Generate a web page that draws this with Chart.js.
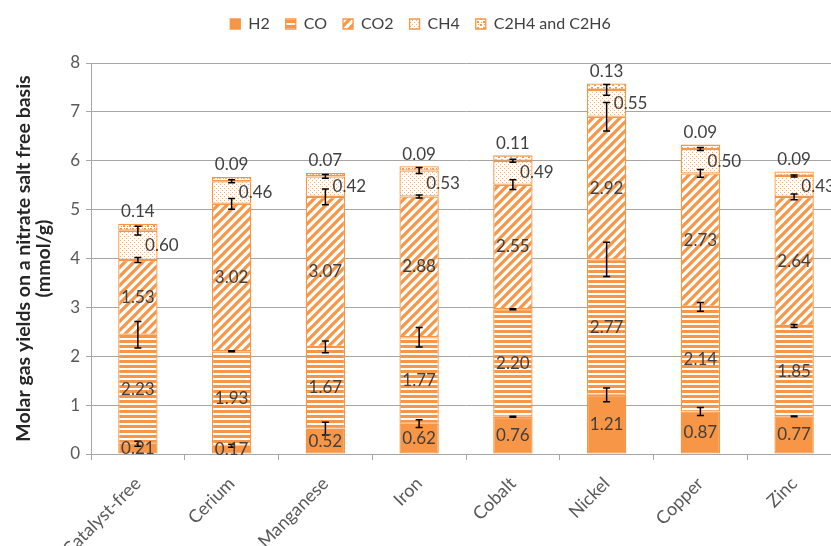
<!DOCTYPE html>
<html>
<head>
<meta charset="utf-8">
<script src="https://cdn.jsdelivr.net/npm/chart.js@4.4.0/dist/chart.umd.min.js"></script>
<style>
  html, body { margin: 0; padding: 0; background: #fff; overflow: hidden; }
  #wrap { width: 831px; height: 546px; overflow: hidden; }
</style>
</head>
<body>
<div id="wrap"><canvas id="grafico" width="841" height="546"></canvas></div>
<script>
const categorias = ["Catalyst-free", "Cerium", "Manganese", "Iron", "Cobalt", "Nickel", "Copper", "Zinc"];
const nomesSeries = ["H2", "CO", "CO2", "CH4", "C2H4 and C2H6"];

const h2  = [0.21, 0.17, 0.52, 0.62, 0.76, 1.21, 0.87, 0.77];
const co  = [2.23, 1.93, 1.67, 1.77, 2.20, 2.77, 2.14, 1.85];
const co2 = [1.53, 3.02, 3.07, 2.88, 2.55, 2.92, 2.73, 2.64];
const ch4 = [0.60, 0.46, 0.42, 0.53, 0.49, 0.55, 0.50, 0.43];
const c2  = [0.14, 0.09, 0.07, 0.09, 0.11, 0.13, 0.09, 0.09];

// error bars (+/-), drawn at the top of each segment
const erroH2  = [0.05, 0.03, 0.13, 0.08, 0.01, 0.14, 0.08, 0.01];
const erroCO  = [0.27, 0.01, 0.12, 0.20, 0.01, 0.35, 0.09, 0.03];
const erroCO2 = [0.05, 0.11, 0.16, 0.03, 0.10, 0.29, 0.08, 0.06];
const erroCH4 = [0.09, 0.03, 0.04, 0.06, 0.03, 0.11, 0.03, 0.02];

const eixoY = { min: 0, max: 8, passo: 1 };

const laranja = "#F79646";
const canvas = document.getElementById("grafico");
const ctx = canvas.getContext("2d");

function padrao(w, h, desenhar) {
  const c = document.createElement("canvas");
  c.width = w; c.height = h;
  const g = c.getContext("2d");
  desenhar(g, w, h);
  return ctx.createPattern(c, "repeat");
}

const listrasHoriz = padrao(8, 5, (g, w, h) => {
  g.fillStyle = laranja; g.fillRect(0, 0, w, h);
  g.fillStyle = "#fff"; g.fillRect(0, 3, w, 2);
});

const listrasDiag = padrao(9, 9, (g, w, h) => {
  g.fillStyle = "#fff"; g.fillRect(0, 0, w, h);
  g.strokeStyle = laranja; g.lineWidth = 3.2;
  g.beginPath();
  g.moveTo(-1, h + 1); g.lineTo(w + 1, -1);
  g.moveTo(-w / 2 - 1, h / 2 + 1); g.lineTo(w / 2 + 1, -h / 2 - 1);
  g.moveTo(w / 2 - 1, h * 1.5 + 1); g.lineTo(w * 1.5 + 1, h / 2 - 1);
  g.stroke();
});

const pontos = padrao(4, 4, (g, w, h) => {
  g.fillStyle = "#fff"; g.fillRect(0, 0, w, h);
  g.fillStyle = "rgba(247,150,70,0.75)";
  g.fillRect(0, 0, 1, 1);
  g.fillRect(2, 2, 1, 1);
});

const confete = padrao(6, 6, (g, w, h) => {
  g.fillStyle = "#fff"; g.fillRect(0, 0, w, h);
  g.fillStyle = laranja;
  g.fillRect(0, 0, 2, 2);
  g.fillRect(3, 3, 2, 2);
  g.fillRect(4, 0, 1, 1);
  g.fillRect(1, 4, 1, 1);
});

const valores = [h2, co, co2, ch4, c2];
const erros = [erroH2, erroCO, erroCO2, erroCH4];
const fundos = [laranja, listrasHoriz, listrasDiag, pontos, confete];

const datasets = valores.map((v, i) => ({
  label: nomesSeries[i],
  data: v,
  backgroundColor: fundos[i],
  borderColor: laranja,
  borderWidth: 1.3,
  borderSkipped: false,
  barPercentage: 0.42,
  categoryPercentage: 1
}));

// fixed legend height so the plot starts where the reference does
const alturaLegenda = {
  id: "alturaLegenda",
  beforeInit(chart) {
    const fit = chart.legend.fit;
    chart.legend.fit = function () {
      fit.call(this);
      this.height = 63;
    };
  }
};

const barrasErro = {
  id: "barrasErro",
  afterDatasetsDraw(chart) {
    const y = chart.scales.y;
    const c = chart.ctx;
    c.save();
    c.strokeStyle = "#000";
    c.lineWidth = 1.5;
    erros.forEach((serie, i) => {
      const meta = chart.getDatasetMeta(i);
      serie.forEach((e, j) => {
        let topo = 0;
        for (let k = 0; k <= i; k++) topo += valores[k][j];
        const x = meta.data[j].x;
        const y1 = y.getPixelForValue(topo + e);
        const y2 = y.getPixelForValue(topo - e);
        c.beginPath();
        c.moveTo(x, y1); c.lineTo(x, y2);
        c.moveTo(x - 3.5, y1); c.lineTo(x + 3.5, y1);
        c.moveTo(x - 3.5, y2); c.lineTo(x + 3.5, y2);
        c.stroke();
      });
    });
    c.restore();
  }
};

const rotulos = {
  id: "rotulos",
  afterDatasetsDraw(chart) {
    const c = chart.ctx;
    c.save();
    c.font = "17px Lato";
    c.fillStyle = "#404040";
    c.textAlign = "center";
    c.textBaseline = "middle";
    valores.forEach((serie, i) => {
      const meta = chart.getDatasetMeta(i);
      serie.forEach((v, j) => {
        const bar = meta.data[j];
        let x = bar.x;
        let yy = (bar.y + bar.base) / 2;
        if (i === 3) x += 24;
        if (i === 4) yy = bar.y - 12;
        c.fillText(v.toFixed(2), x, yy);
      });
    });
    c.restore();
  }
};

Chart.defaults.font.family = "Lato";
Chart.defaults.color = "#595959";

new Chart(ctx, {
  type: "bar",
  data: { labels: categorias, datasets: datasets },
  options: {
    responsive: false,
    animation: false,
    layout: { padding: { left: 0, right: 0, top: 0, bottom: 0 } },
    plugins: {
      legend: {
        position: "top",
        labels: {
          boxWidth: 10,
          boxHeight: 10,
          padding: 16,
          color: "#404040",
          font: { size: 16 }
        }
      },
      tooltip: { enabled: false }
    },
    scales: {
      x: {
        stacked: true,
        afterFit(s) { s.height = 92; },
        grid: {
          display: true,
          drawOnChartArea: false,
          drawTicks: true,
          tickLength: 6,
          color: "#A6A6A6"
        },
        border: { color: "#A6A6A6" },
        ticks: {
          minRotation: 45,
          maxRotation: 45,
          padding: 13,
          font: { size: 18 },
          color: "#595959"
        }
      },
      y: {
        stacked: true,
        min: eixoY.min,
        max: eixoY.max,
        afterFit(s) { s.width = 91; },
        ticks: { stepSize: eixoY.passo, padding: 6, font: { size: 17 }, color: "#595959" },
        grid: { color: "#A6A6A6", tickLength: 5 },
        border: { color: "#A6A6A6" },
        title: {
          display: true,
          text: ["Molar gas yields on a nitrate salt free basis", "(mmol/g)"],
          font: { size: 19.5, weight: "bold", lineHeight: 1.0 },
          color: "#262626",
          padding: { top: 14, bottom: 0 }
        }
      }
    }
  },
  plugins: [alturaLegenda, barrasErro, rotulos]
});
</script>
</body>
</html>
